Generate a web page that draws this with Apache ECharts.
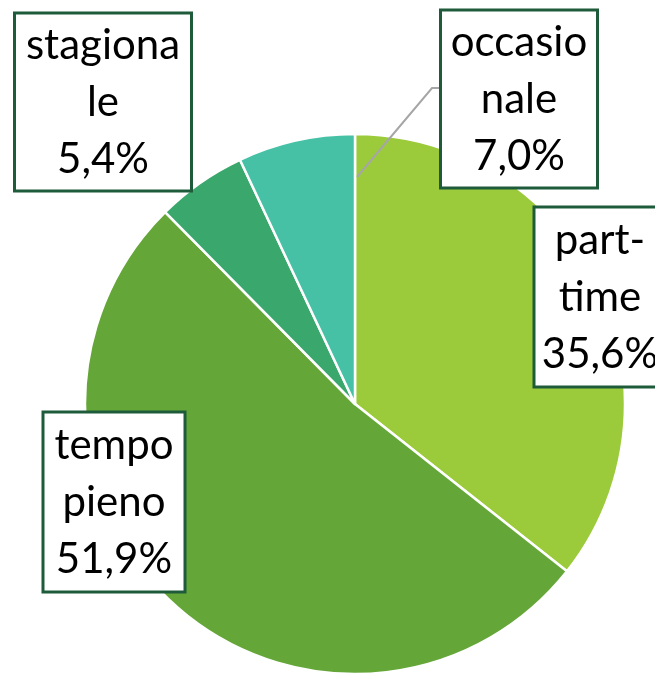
<!DOCTYPE html>
<html>
<head>
<meta charset="utf-8">
<script src="https://cdn.jsdelivr.net/npm/echarts@6/dist/echarts.min.js"></script>
<style>
html,body{margin:0;padding:0;background:#fff;}
#chart{width:655px;height:674px;}
</style>
</head>
<body>
<div id="chart"></div>
<script>
// Data
const categories = ['part-time', 'tempo pieno', 'stagionale', 'occasionale'];
const labelLines = ['part-\ntime', 'tempo\npieno', 'stagiona\nle', 'occasio\nnale'];
const values = [35.6, 51.9, 5.4, 7.0];
const colors = ['#9BCB3A', '#64A638', '#3AA76C', '#46C1A5'];

// Label box layout (center x, center y, width, height)
const boxes = [
  [600, 297, 132, 180],
  [114, 502, 142, 180],
  [103, 102, 177, 178],
  [519, 99, 157, 178]
];
// leader line for the occasionale label
const leader = [[357, 177], [432, 88], [441, 88]];

const chart = echarts.init(document.getElementById('chart'));
const fmt = v => v.toFixed(1).replace('.', ',') + '%';

const common = {
  type: 'pie',
  center: [355, 404],
  radius: 270,
  startAngle: 90,
  clockwise: true,
  avoidLabelOverlap: false
};

chart.setOption({
  animation: false,
  series: [
    Object.assign({}, common, {
      z: 2,
      itemStyle: { borderColor: '#ffffff', borderWidth: 2.5 },
      label: { show: false },
      labelLine: { show: false },
      data: categories.map((c, i) => ({
        name: c,
        value: values[i],
        itemStyle: { color: colors[i] }
      }))
    }),
    Object.assign({}, common, {
      z: 5,
      silent: true,
      itemStyle: { color: 'rgba(0,0,0,0)', borderWidth: 0 },
      label: {
        show: true,
        position: 'outside',
        fontFamily: 'Lato',
        fontSize: 42,
        lineHeight: 57,
        color: '#000',
        align: 'center',
        verticalAlign: 'middle',
        backgroundColor: '#fff',
        borderColor: '#1E5B3B',
        borderWidth: 3,
        padding: 0
      },
      labelLine: { show: false },
      labelLayout: function (p) {
        const b = boxes[p.dataIndex];
        const r = { x: b[0], y: b[1], align: 'center', verticalAlign: 'middle' };
        if (p.dataIndex === 3) r.labelLinePoints = leader;
        return r;
      },
      data: categories.map((c, i) => ({
        name: c,
        value: values[i],
        label: {
          formatter: labelLines[i] + '\n' + fmt(values[i]),
          width: boxes[i][2] - 3,
          height: boxes[i][3] - 3
        },
        labelLine: i === 3 ? { show: true, length: 20, length2: 10, lineStyle: { color: '#A6A6A6', width: 2 } } : { show: false }
      }))
    })
  ]
});
</script>
</body>
</html>
